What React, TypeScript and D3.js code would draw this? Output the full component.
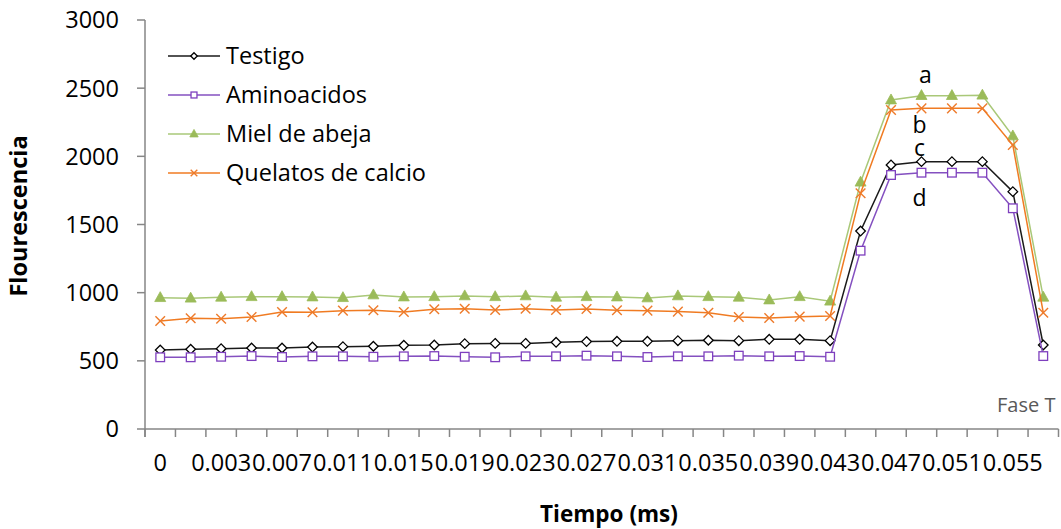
import React from 'react';
import * as d3 from 'd3';

// category labels of the x axis (time, ms)
const categories = [
  '0', '0.001', '0.003', '0.005', '0.007', '0.009', '0.011', '0.013', '0.015', '0.017',
  '0.019', '0.021', '0.023', '0.025', '0.027', '0.029', '0.031', '0.033', '0.035', '0.037',
  '0.039', '0.041', '0.043', '0.045', '0.047', '0.049', '0.051', '0.053', '0.055', '0.057',
];

const testigo = [
  579, 585, 589, 594, 594, 601, 604, 607, 614, 616, 626, 628, 628, 636, 641, 643, 643, 648,
  651, 648, 658, 658, 648, 1452, 1937, 1961, 1961, 1961, 1741, 616,
];
const aminoacidos = [
  526, 526, 530, 535, 528, 533, 533, 530, 533, 535, 530, 526, 533, 533, 538, 533, 528, 533,
  533, 538, 533, 535, 530, 1308, 1863, 1880, 1880, 1880, 1619, 535,
];
const miel = [
  963, 959, 966, 970, 970, 968, 963, 983, 968, 970, 976, 970, 976, 966, 970, 968, 961, 976,
  970, 966, 946, 970, 937, 1810, 2413, 2445, 2445, 2448, 2149, 966,
];
const quelatos = [
  792, 812, 809, 822, 858, 856, 868, 871, 858, 878, 882, 873, 882, 873, 880, 871, 868, 861,
  853, 822, 814, 824, 829, 1729, 2340, 2352, 2352, 2352, 2083, 853,
];

const yTicks = [0, 500, 1000, 1500, 2000, 2500, 3000];

// significance letters placed next to the plateau
const letters = [
  { t: 'a', v: 2600 },
  { t: 'b', v: 2235 },
  { t: 'c', v: 2060 },
  { t: 'd', v: 1700 },
];

const series = [
  { name: 'Testigo', values: testigo, color: '#000000', line: '#1a1a1a', marker: 'diamond' },
  { name: 'Aminoacidos', values: aminoacidos, color: '#7E3FBE', line: '#8450C0', marker: 'square' },
  { name: 'Miel de abeja', values: miel, color: '#9BBB59', line: '#A9C878', marker: 'triangle' },
  { name: 'Quelatos de calcio', values: quelatos, color: '#EE7A2A', line: '#F07B22', marker: 'x' },
];

const font = '"Open Sans", "Liberation Sans", sans-serif';
const axisColor = '#868686';

const Marker = ({ kind, cx, cy, color, s }: { kind: string; cx: number; cy: number; color: string; s: number }) => {
  if (kind === 'diamond') {
    const p = `${cx},${cy - s} ${cx + s},${cy} ${cx},${cy + s} ${cx - s},${cy}`;
    return <polygon points={p} fill="#fff" stroke={color} strokeWidth={1.3} />;
  }
  if (kind === 'square') {
    return <rect x={cx - s * 0.9} y={cy - s * 0.9} width={s * 1.8} height={s * 1.8} fill="#fff" stroke={color} strokeWidth={1.3} />;
  }
  if (kind === 'triangle') {
    const p = `${cx},${cy - s * 1.1} ${cx + s},${cy + s * 0.7} ${cx - s},${cy + s * 0.7}`;
    return <polygon points={p} fill={color} stroke={color} strokeWidth={0.8} />;
  }
  return (
    <g stroke={color} strokeWidth={1.4}>
      <line x1={cx - s} y1={cy - s} x2={cx + s} y2={cy + s} />
      <line x1={cx - s} y1={cy + s} x2={cx + s} y2={cy - s} />
    </g>
  );
};

export default function App() {
  const width = 1061;
  const height = 529;

  const x = d3.scaleBand().domain(categories).range([145, 1058.5]).padding(0);
  const bw = x.bandwidth();
  const cx = (c: string) => (x(c) as number) + bw / 2;
  const y = d3.scaleLinear().domain([0, 3000]).range([429, 20]);

  const line = d3
    .line<number>()
    .x((_, i) => cx(categories[i]))
    .y((d) => y(d));

  const boundaries = categories.map((c) => x(c) as number).concat([x.range()[1]]);

  const plateauX = cx(categories[25]) - 2;

  return (
    <svg width={width} height={height} style={{ position: 'absolute', left: 0, top: 0, background: '#fff' }} fontFamily={font}>
      {/* y axis */}
      <line x1={145} x2={145} y1={y(3000)} y2={437} stroke={axisColor} strokeWidth={1.5} />
      {yTicks.map((t) => (
        <g key={t}>
          <line x1={137} x2={145} y1={y(t)} y2={y(t)} stroke={axisColor} strokeWidth={1.5} />
          <text x={119} y={y(t)} dy="0.36em" textAnchor="end" fontSize={23.5} fill="#000">
            {t}
          </text>
        </g>
      ))}

      {/* x axis */}
      <line x1={145} x2={x.range()[1]} y1={y(0)} y2={y(0)} stroke={axisColor} strokeWidth={1.5} />
      {boundaries.map((b, i) => (
        <line key={i} x1={b} x2={b} y1={y(0)} y2={437} stroke={axisColor} strokeWidth={1.5} />
      ))}
      {categories.map((c, i) =>
        i % 2 === 0 ? (
          <text key={c} x={cx(c)} y={471} textAnchor="middle" fontSize={23.5} fill="#000">
            {c}
          </text>
        ) : null
      )}

      {/* series */}
      {series.map((s) => (
        <g key={s.name}>
          <path d={line(s.values) || ''} fill="none" stroke={s.line} strokeWidth={1.5} />
          {s.values.map((v, i) => (
            <Marker key={i} kind={s.marker} cx={cx(categories[i])} cy={y(v)} color={s.color} s={s.marker === 'triangle' ? 5.5 : 4.8} />
          ))}
        </g>
      ))}

      {/* letters */}
      {letters.map((l) => (
        <text key={l.t} x={l.t === 'a' ? plateauX + 6 : plateauX} y={y(l.v)} dy="0.36em" textAnchor="middle" fontSize={23} fill="#000">
          {l.t}
        </text>
      ))}

      {/* legend */}
      {series.map((s, i) => {
        const ly = 56 + i * 39;
        return (
          <g key={s.name}>
            <line x1={168} x2={220} y1={ly} y2={ly} stroke={s.line} strokeWidth={1.5} />
            <Marker kind={s.marker} cx={194} cy={ly} color={s.color} s={s.marker === 'triangle' ? 4.2 : 3.3} />
            <text x={226} y={ly} dy="0.36em" fontSize={23.5} fill="#000">
              {s.name}
            </text>
          </g>
        );
      })}

      <text x={997} y={411.5} fontSize={20} fill="#595959">
        Fase T
      </text>

      {/* axis titles */}
      <text x={609} y={522} textAnchor="middle" fontSize={22.5} fontWeight="bold" fill="#000">
        Tiempo (ms)
      </text>
      <text transform="translate(27,216) rotate(-90)" textAnchor="middle" fontSize={23.5} fontWeight="bold" fill="#000">
        Flourescencia
      </text>
    </svg>
  );
}
